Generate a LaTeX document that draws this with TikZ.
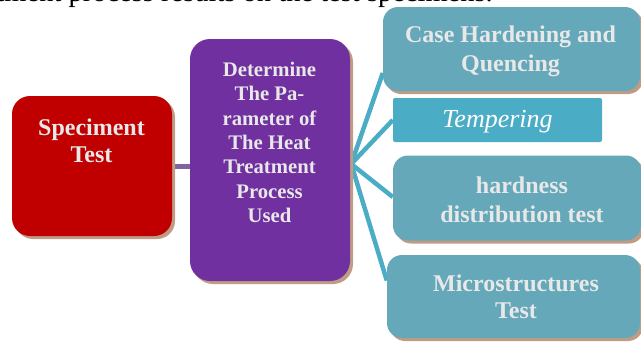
\documentclass[tikz,border=0pt]{standalone}
\usepackage{fontspec}
\setmainfont{Liberation Serif}
\usetikzlibrary{shadows,calc,backgrounds}
\definecolor{redbox}{HTML}{C00000}
\definecolor{purplebox}{HTML}{7030A0}
\definecolor{tealbox}{RGB}{100,168,185}
\definecolor{brightteal}{HTML}{4BACC6}
\definecolor{shadowbrown}{RGB}{192,156,132}
\definecolor{linkpurple}{RGB}{128,100,162}
\definecolor{txtgray}{RGB}{232,232,232}
\tikzset{
  box/.style={draw=none, inner sep=0pt, rounded corners=#1,
    drop shadow={shadow xshift=3pt, shadow yshift=-3pt, fill=shadowbrown, opacity=1}},
  box/.default=16pt,
  lbl/.style={anchor=base, inner sep=0pt, text=txtgray, font=\bfseries\fontsize{24}{28}\selectfont},
  plbl/.style={anchor=base, inner sep=0pt, text=txtgray, font=\bfseries\fontsize{20.7}{24}\selectfont},
  tlink/.style={draw=brightteal, line width=4.5pt},
  plink/.style={draw=linkpurple, line width=5pt}
}
\begin{document}
\begin{tikzpicture}[x=1pt,y=-1pt]
\useasboundingbox (0,0) rectangle (641,343);
\clip (0,0) rectangle (641,343);
% cut-off body text at top
\node[anchor=base east, inner sep=0pt, font=\fontsize{28.5}{33}\selectfont] (body) at (493,1) {treatment process results on the test specimens.};
% boxes
\node[box=18pt, fill=redbox, minimum width=160pt, minimum height=140pt] (R) at (92,166) {};
\node[box=20pt, fill=purplebox, minimum width=160pt, minimum height=242pt] (P) at (270,160) {};
\node[box=15pt, fill=tealbox, minimum width=257pt, minimum height=84pt] (T) at (511.5,49) {};
\node[draw=none, inner sep=0pt, rounded corners=2pt, fill=brightteal, minimum width=209pt, minimum height=44pt] (Tp) at (497.5,120) {};
\node[box=15pt, fill=tealbox, minimum width=248pt, minimum height=85pt] (H) at (517,198) {};
\node[box=15pt, fill=tealbox, minimum width=253pt, minimum height=83pt] (M) at (513.5,296.5) {};
% connectors
\begin{scope}[on background layer]
\coordinate (hub) at ($(P.east)+(1,4)$);
\draw[plink] (R.east) -- (R.east -| P.west);
\draw[tlink] (hub) -- ($(T.west)+(0,24)$);
\draw[tlink] (hub) -- (Tp.west);
\draw[tlink] (hub) -- ($(H.west)+(0,-1)$);
\draw[tlink] (hub) -- ($(M.west)+(0,-16)$);
\end{scope}
% texts
\node[lbl] (r1) at (91.5,135) {Speciment};
\node[lbl] (r2) at (91.5,162) {Test};
\node[plbl] (p1) at (269.5,76.7) {Determine};
\node[plbl] (p2) at (269.5,100.9) {The Pa-};
\node[plbl] (p3) at (269.5,125.2) {rameter of};
\node[plbl] (p4) at (269.5,149.5) {The Heat};
\node[plbl] (p5) at (269.5,173.8) {Treatment};
\node[plbl] (p6) at (269.5,198.1) {Process};
\node[plbl] (p7) at (269.5,222.4) {Used};
\node[lbl] (t1) at (510.5,42.7) {Case Hardening and};
\node[lbl] (t2) at (510.5,71.7) {Quencing};
\node[anchor=base, inner sep=0pt, text=white, font=\itshape\fontsize{26}{30}\selectfont] (tp1) at (497.5,127.5) {Tempering};
\node[lbl] (h1) at (522,193) {hardness};
\node[lbl] (h2) at (522,222) {distribution test};
\node[lbl] (m1) at (516,291.7) {Microstructures};
\node[lbl] (m2) at (516,318.3) {Test};
\end{tikzpicture}
\end{document}
